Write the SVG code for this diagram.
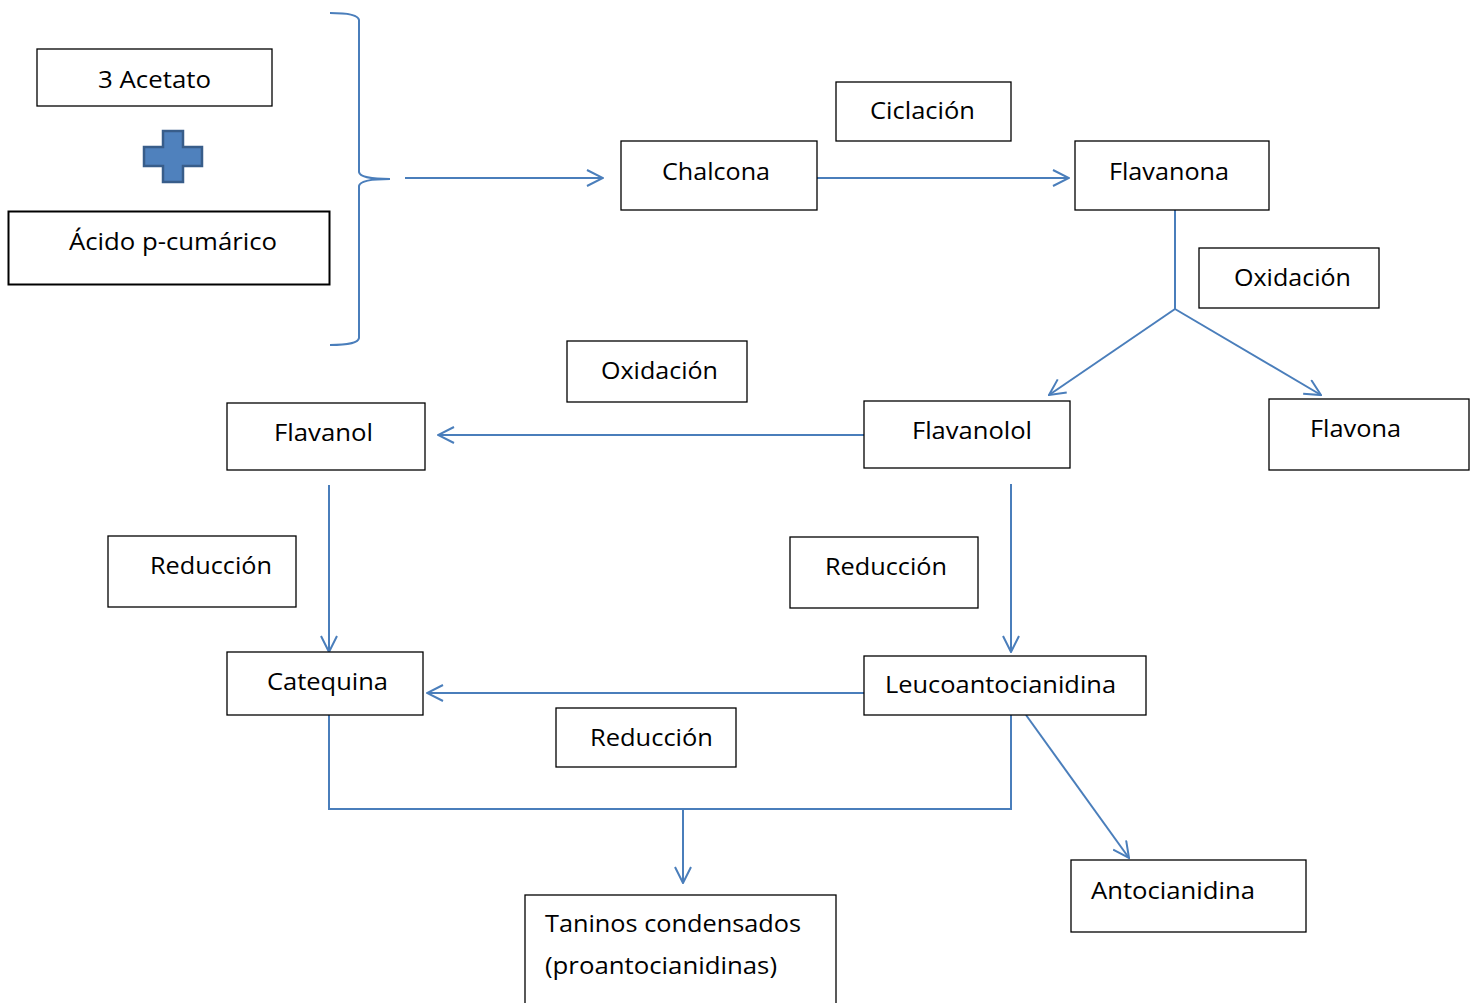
<svg xmlns="http://www.w3.org/2000/svg" width="1478" height="1003" viewBox="0 0 1478 1003">
<defs>
<style>
.box{fill:#fff;stroke:#000;stroke-width:1.3}
.t{font-family:"Open Sans","Noto Sans","Liberation Sans",sans-serif;font-size:24px;fill:#000}
.c{fill:none;stroke:#4a7ebb;stroke-width:2}
</style>
<marker id="ah" viewBox="0 0 18 18" refX="17" refY="9" markerWidth="18" markerHeight="18" markerUnits="userSpaceOnUse" orient="auto">
<path d="M1,1 L17,9 L1,17" fill="none" stroke="#4a7ebb" stroke-width="2"/>
</marker>
</defs>
<rect width="1478" height="1003" fill="#fff"/>
<g id="connectors">
<path class="c" d="M330,13 Q358,13 359,20 L359,172 Q360,179 390,179"/>
<path class="c" d="M390,179 Q360,179 359,186 L359,338 Q358,345 330,345"/>
<line class="c" x1="405" y1="178" x2="603" y2="178" marker-end="url(#ah)"/>
<line class="c" x1="817" y1="178" x2="1069" y2="178" marker-end="url(#ah)"/>
<polyline class="c" points="1175,210 1175,309"/>
<line class="c" x1="1175" y1="309" x2="1049" y2="395" marker-end="url(#ah)"/>
<line class="c" x1="1175" y1="309" x2="1321" y2="395" marker-end="url(#ah)"/>
<line class="c" x1="864" y1="435" x2="438" y2="435" marker-end="url(#ah)"/>
<line class="c" x1="329" y1="485" x2="329" y2="652" marker-end="url(#ah)"/>
<line class="c" x1="1011" y1="484" x2="1011" y2="652" marker-end="url(#ah)"/>
<line class="c" x1="864" y1="693" x2="427" y2="693" marker-end="url(#ah)"/>
<polyline class="c" points="329,715 329,809 1011,809 1011,715"/>
<line class="c" x1="683" y1="809" x2="683" y2="883" marker-end="url(#ah)"/>
<line class="c" x1="1026" y1="715" x2="1129" y2="858" marker-end="url(#ah)"/>
</g>
<g id="acetato"><rect class="box" x="37" y="49" width="235" height="57"/><text class="t" x="98" y="88" textLength="113" lengthAdjust="spacingAndGlyphs">3 Acetato</text></g>
<g id="plus"><path d="M163,131 H183 V147 H202 V166 H183 V182 H163 V166 H144 V147 H163 Z" fill="#4f81bd" stroke="#385d8a" stroke-width="2.5"/></g>
<g id="acido"><rect x="8.5" y="211.5" width="321" height="73" fill="#fff" stroke="#000" stroke-width="2"/><text class="t" x="69" y="250" textLength="208" lengthAdjust="spacingAndGlyphs">Ácido p-cumárico</text></g>
<g id="chalcona"><rect class="box" x="621" y="141" width="196" height="69"/><text class="t" x="662" y="180" textLength="108" lengthAdjust="spacingAndGlyphs">Chalcona</text></g>
<g id="ciclacion"><rect class="box" x="836" y="82" width="175" height="59"/><text class="t" x="870" y="119" textLength="105" lengthAdjust="spacingAndGlyphs">Ciclación</text></g>
<g id="flavanona"><rect class="box" x="1075" y="141" width="194" height="69"/><text class="t" x="1109" y="180" textLength="120" lengthAdjust="spacingAndGlyphs">Flavanona</text></g>
<g id="oxidacion1"><rect class="box" x="1199" y="248" width="180" height="60"/><text class="t" x="1234" y="286" textLength="117" lengthAdjust="spacingAndGlyphs">Oxidación</text></g>
<g id="flavanolol"><rect class="box" x="864" y="401" width="206" height="67"/><text class="t" x="912" y="439" textLength="120" lengthAdjust="spacingAndGlyphs">Flavanolol</text></g>
<g id="flavona"><rect class="box" x="1269" y="399" width="200" height="71"/><text class="t" x="1310" y="437" textLength="91" lengthAdjust="spacingAndGlyphs">Flavona</text></g>
<g id="oxidacion2"><rect class="box" x="567" y="341" width="180" height="61"/><text class="t" x="601" y="379" textLength="117" lengthAdjust="spacingAndGlyphs">Oxidación</text></g>
<g id="flavanol"><rect class="box" x="227" y="403" width="198" height="67"/><text class="t" x="274" y="441" textLength="99" lengthAdjust="spacingAndGlyphs">Flavanol</text></g>
<g id="reduccion1"><rect class="box" x="108" y="536" width="188" height="71"/><text class="t" x="150" y="574" textLength="122" lengthAdjust="spacingAndGlyphs">Reducción</text></g>
<g id="reduccion2"><rect class="box" x="790" y="537" width="188" height="71"/><text class="t" x="825" y="575" textLength="122" lengthAdjust="spacingAndGlyphs">Reducción</text></g>
<g id="catequina"><rect class="box" x="227" y="652" width="196" height="63"/><text class="t" x="267" y="690" textLength="121" lengthAdjust="spacingAndGlyphs">Catequina</text></g>
<g id="leucoantocianidina"><rect class="box" x="864" y="656" width="282" height="59"/><text class="t" x="885" y="693" textLength="231" lengthAdjust="spacingAndGlyphs">Leucoantocianidina</text></g>
<g id="reduccion3"><rect class="box" x="556" y="708" width="180" height="59"/><text class="t" x="590" y="746" textLength="123" lengthAdjust="spacingAndGlyphs">Reducción</text></g>
<g id="antocianidina"><rect class="box" x="1071" y="860" width="235" height="72"/><text class="t" x="1091" y="899" textLength="164" lengthAdjust="spacingAndGlyphs">Antocianidina</text></g>
<g id="taninos"><rect class="box" x="525" y="895" width="311" height="120"/><text class="t" x="545" y="932" textLength="256" lengthAdjust="spacingAndGlyphs">Taninos condensados</text><text class="t" x="545" y="974" textLength="232" lengthAdjust="spacingAndGlyphs">(proantocianidinas)</text></g>
</svg>
